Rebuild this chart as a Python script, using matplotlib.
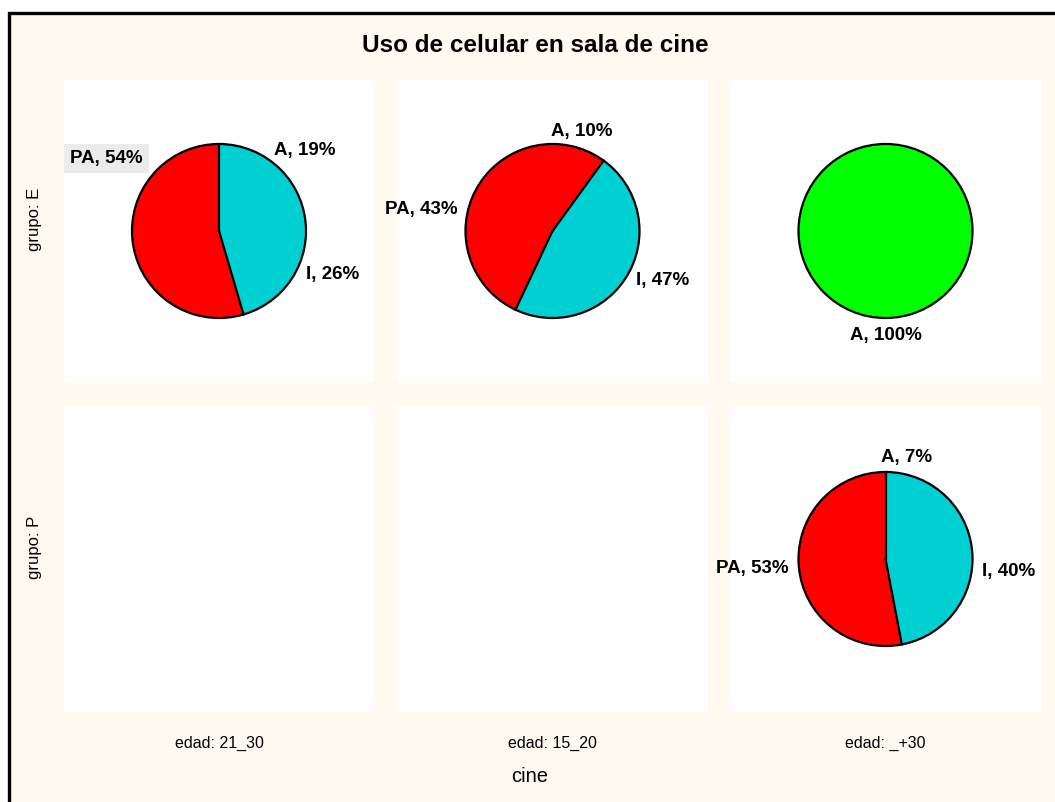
import numpy as np
import matplotlib.pyplot as plt
from matplotlib.patches import Rectangle, Circle

plt.rcParams['font.family'] = ['Liberation Sans', 'DejaVu Sans']

# data
title = 'Uso de celular en sala de cine'
ages = ['21_30', '15_20', '_+30']
groups = ['E', 'P']
slices = ['A', 'I', 'PA']
pct_E = [[19, 26, 54], [10, 47, 43], [100, 0, 0]]
pct_P = [None, None, [7, 40, 53]]

# slice colours as Statistica drew them, per panel
RED, CYAN, GREEN = '#ff0000', '#00d0d2', '#00ff00'
colors_E = [[CYAN, CYAN, RED], [RED, CYAN, RED], [GREEN, CYAN, RED]]
colors_P = [None, None, [CYAN, CYAN, RED]]

W, H = 1055, 802
R_PX = 87  # pie radius in pixels

fig = plt.figure(figsize=(W / 100, H / 100), dpi=100, facecolor='white')
fig.add_artist(Rectangle((9 / W, -0.1), 1.2, 1 - 13 / H + 0.1, transform=fig.transFigure,
                         facecolor='#fffaf0', edgecolor='black', lw=2.4, zorder=-10))

col_x = [(64, 374), (397, 708), (730, 1041)]
row_y = [(80, 382), (406, 712)]


def draw_pie(ax, values, colors, moved=None):
    keep = [i for i in range(len(values)) if values[i] > 0]
    vals = np.array([values[i] for i in keep], dtype=float)
    cols = [colors[i] for i in keep]
    names = [slices[i] for i in keep]
    wedges, _ = ax.pie(vals, colors=cols, startangle=90, counterclock=False, radius=1)
    for w, col in zip(wedges, cols):
        w.set_edgecolor(col)
        w.set_linewidth(0.8)
    ax.add_patch(Circle((0, 0), 1, fill=False, lw=1.6, ec='black', zorder=5))
    frac = vals / vals.sum()
    edges = np.concatenate([[0], np.cumsum(frac)]) * 2 * np.pi
    n = len(vals)
    # radial lines only where the colour changes
    for i in range(n):
        j = (i + 1) % n
        if n > 1 and cols[i] != cols[j]:
            a = edges[i + 1] % (2 * np.pi)
            ax.plot([0, np.sin(a)], [0, np.cos(a)], color='black', lw=1.6, zorder=6)
    for i in range(n):
        lab = '%s, %d%%' % (names[i], vals[i])
        mid = (edges[i] + edges[i + 1]) / 2
        sx, sy = np.sin(mid), np.cos(mid)
        if moved and names[i] in moved:
            x, y = moved[names[i]]
            ax.text(x, y, lab, ha='center', va='center', fontsize=13.5, fontweight='bold',
                    bbox=dict(facecolor='#ebebeb', edgecolor='none', pad=4.5))
            continue
        if abs(sx) < 0.45:
            ha, va, d = 'center', ('bottom' if sy > 0 else 'top'), 1.1
        else:
            ha, va, d = ('left' if sx > 0 else 'right'), 'center', 1.12
        ax.text(d * sx, d * sy, lab, ha=ha, va=va, fontsize=13.5, fontweight='bold')


for r, (grp, pcts, cols) in enumerate(zip(groups, [pct_E, pct_P], [colors_E, colors_P])):
    y0, y1 = row_y[r]
    for c in range(3):
        x0, x1 = col_x[c]
        ax = fig.add_axes([x0 / W, 1 - y1 / H, (x1 - x0) / W, (y1 - y0) / H])
        ax.set_facecolor('white')
        if pcts[c] is not None:
            moved = {'PA': (-1.29, 0.83)} if (r == 0 and c == 0) else None
            draw_pie(ax, pcts[c], cols[c], moved)
        hx = (x1 - x0) / 2 / R_PX
        hy = (y1 - y0) / 2 / R_PX
        ax.set_xlim(-hx, hx)
        ax.set_ylim(-hy, hy)
        ax.set_aspect('auto')
        ax.axis('off')
        ax.add_patch(Rectangle((0, 0), 1, 1, transform=ax.transAxes, facecolor='white',
                               edgecolor='none', zorder=-1))
    fig.text(34 / W, 1 - ((y0 + y1) / 2 - 12) / H, 'grupo: ' + grp, rotation=90,
             ha='center', va='center', fontsize=12)

for c, age in enumerate(ages):
    x0, x1 = col_x[c]
    fig.text((x0 + x1) / 2 / W, 1 - 743 / H, 'edad: ' + age, ha='center', va='center', fontsize=11.5)

fig.text(530 / W, 1 - 776 / H, 'cine', ha='center', va='center', fontsize=14.5)
fig.text(535 / W, 1 - 46 / H, title, ha='center', va='center', fontsize=17.5, fontweight='bold')

fig.savefig('out.png', dpi=100, facecolor='white')
